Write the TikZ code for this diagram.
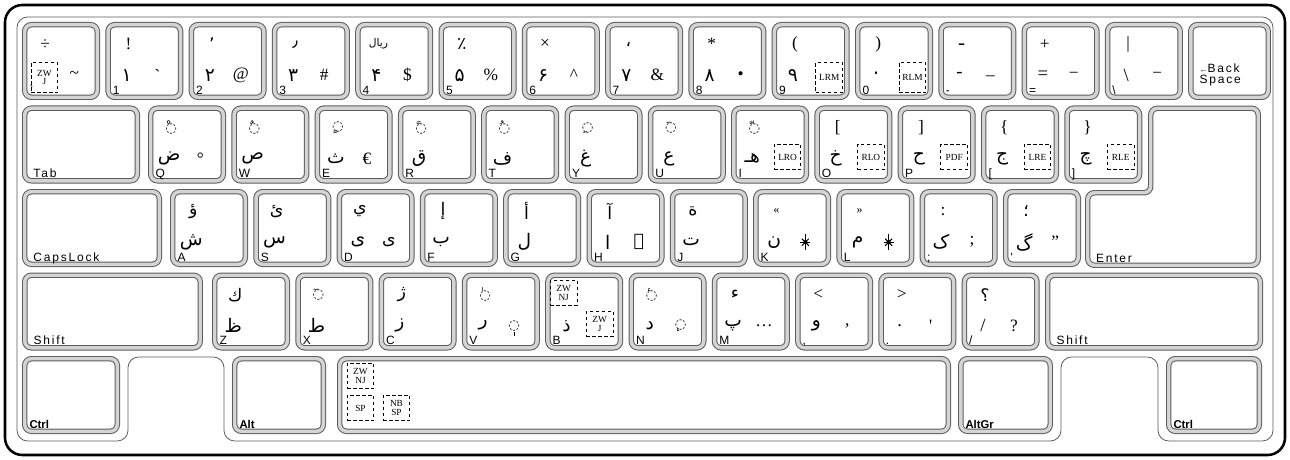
\documentclass[tikz,border=0pt]{standalone}
\usepackage{fontspec}
\setmainfont{Liberation Serif}
\newfontfamily\keyfont[LetterSpace=15]{Liberation Sans}
\newfontfamily\modfont{Liberation Sans}
\newfontfamily\ar[Script=Arabic]{DejaVu Sans}
\TeXXeTstate=1
\usetikzlibrary{positioning}
\definecolor{keyedge}{HTML}{5C5C5C}
\definecolor{keyband}{HTML}{D4D4D4}
% Arabic mark on a dotted circle
\newcommand{\dotmark}[1]{{\ar\fontsize{10}{10}\selectfont ◌#1}}

\begin{document}
\begin{tikzpicture}[x=0.75pt, y=-0.75pt,
  keycap/.style={draw=keyedge, line width=0.75pt, double=keyband, double distance=2.6pt, rounded corners=5pt, inner sep=0pt},
  unitkey/.style={keycap, minimum width=54.4pt, minimum height=54.4pt},
  topch/.style={font=\fontsize{13}{13}\selectfont, inner sep=0pt},
  basech/.style={font=\ar\fontsize{14}{14}\selectfont, inner sep=0pt},
  altch/.style={font=\fontsize{13}{13}\selectfont, inner sep=0pt},
  keylbl/.style={font=\keyfont\fontsize{9}{9}\selectfont, anchor=base west, inner sep=0pt},
  modlbl/.style={keylbl, font=\modfont\bfseries\fontsize{8.5}{8.5}\selectfont},
  ctrlbox/.style={draw, dash pattern=on 2.6pt off 1.9pt, line width=0.7pt, font=\fontsize{7}{6.5}\selectfont, align=center, inner sep=0pt, minimum width=20pt, minimum height=19pt},
  ornament/.style={line width=0.7pt},
  caseline/.style={draw=keyedge, line width=0.6pt, rounded corners=8pt},
  frame/.style={draw=black, line width=1.9pt, rounded corners=13pt}
]
\fill[white] (0,0) rectangle (1290,460);
\useasboundingbox (0,0) rectangle (1290,460);

% Case outline
\draw[frame] (5,5) rectangle (1285,455);
\draw[caseline] (17,17) -- (1273,17) -- (1273,441) -- (1158,441) -- (1158,357) -- (1061,357)
  -- (1061,441) -- (224,441) -- (224,357) -- (128,357) -- (128,441) -- (17,441) -- cycle;

% Number row
\foreach \i/\kn/\sh/\bs/\ag/\lb in {0/grave/÷/{}/\textasciitilde/\textasciigrave,
    1/one/!/۱/\textasciigrave/1, 2/two/{\ar ٬}/۲/@/2, 3/three/{\ar ٫}/۳/\#/3,
    4/four/{\ar\fontsize{8}{8}\selectfont\beginR ریال\endR}/۴/\$/4,
    5/five/{\ar ٪}/۵/\%/5, 6/six/×/۶/\textasciicircum/6, 7/seven/{\ar ،}/۷/\&/7,
    8/eight/*/۸/•/8, 9/nine/{(}/۹/{}/9, 10/zero/{)}/۰/{}/0,
    11/minus/{\ar ـ}/{\rmfamily -}/\_/-, 12/equal/+/{\rmfamily =}/−/=,
    13/bslash/|/{\rmfamily\textbackslash}/−/\textbackslash}{
  \node[unitkey] (k\kn) at ({61+83.3*\i},61) {};
  \node[topch]  (k\kn-s) at ([shift={(21,20)}]k\kn.north west) {\sh};
  \node[basech] (k\kn-b) at ([shift={(19,51)}]k\kn.north west) {\bs};
  \node[altch]  (k\kn-a) at ([shift={(50,51)}]k\kn.north west) {\ag};
  \node[keylbl] (k\kn-l) at ([shift={(5,70)}]k\kn.north west) {\lb};
}
\node[keycap, minimum width=58.1pt, minimum height=54.4pt] (kback) at (1229.5,61) {};
\node[keylbl, align=left, font=\keyfont\fontsize{9}{8.2}\selectfont] (kback-l)
  at ([shift={(9,59)}]kback.north west) {{\fontsize{6}{6}\selectfont ←}Back\\Space};
\node[ctrlbox, minimum height=22.5pt] (zwj1) at ([shift={(20.25,53.25)}]kgrave.north west) {ZW\\J};
\node[ctrlbox, minimum height=22.5pt] (lrm) at ([shift={(55.25,53.25)}]knine.north west) {LRM};
\node[ctrlbox, minimum height=22.5pt] (rlm) at ([shift={(55.25,53.25)}]kzero.north west) {RLM};

% Top letter row
\node[keycap, minimum width=84.4pt, minimum height=54.4pt] (ktab) at (81,144.5) {};
\node[keylbl] (ktab-l) at ([shift={(9,70)}]ktab.north west) {Tab};
\foreach \i/\kn/\sh/\bs/\ag/\lb in {0/Q/{\dotmark{ْ}}/ض/°/Q, 1/W/{\dotmark{ٌ}}/ص/{}/W,
    2/E/{\dotmark{ٍ}}/ث/€/E, 3/R/{\dotmark{ً}}/ق/{}/R, 4/T/{\dotmark{ُ}}/ف/{}/T,
    5/Y/{\dotmark{ِ}}/غ/{}/Y, 6/U/{\dotmark{َ}}/ع/{}/U, 7/I/{\dotmark{ّ}}/هـ/{}/I,
    8/O/[/خ/{}/O, 9/P/]/ح/{}/P, 10/lbrack/\{/ج/{}/[, 11/rbrack/\}/چ/{}/]}{
  \node[unitkey] (k\kn) at ({187+83.3*\i},144.5) {};
  \node[topch]  (k\kn-s) at ([shift={(21,20)}]k\kn.north west) {\sh};
  \node[basech] (k\kn-b) at ([shift={(19,51)}]k\kn.north west) {\bs};
  \node[altch]  (k\kn-a) at ([shift={(50,51)}]k\kn.north west) {\ag};
  \node[keylbl] (k\kn-l) at ([shift={(5,70)}]k\kn.north west) {\lb};
}
\node[ctrlbox] (lro) at ([shift={(54.25,49.25)}]kI.north west) {LRO};
\node[ctrlbox] (rlo) at ([shift={(54.25,49.25)}]kO.north west) {RLO};
\node[ctrlbox] (pdf) at ([shift={(54.25,49.25)}]kP.north west) {PDF};
\node[ctrlbox] (lre) at ([shift={(54.25,49.25)}]klbrack.north west) {LRE};
\node[ctrlbox] (rle) at ([shift={(54.25,49.25)}]krbrack.north west) {RLE};

% Enter
\draw[keycap] (1150.75,108.25) -- (1258.25,108.25) -- (1258.25,265.25) -- (1087.75,265.25)
  -- (1087.75,192.75) -- (1150.75,192.75) -- cycle;
\coordinate (kenter) at (1087.75,192.75);
\node[keylbl] (kenter-l) at ([shift={(8,70)}]kenter) {Enter};

% Home row
\node[keycap, minimum width=100.9pt, minimum height=54.4pt] (kcaps) at (92,228) {};
\node[keylbl] (kcaps-l) at ([shift={(9,70)}]kcaps.north west) {CapsLock};
\foreach \i/\kn/\sh/\bs/\ag/\lb in {0/A/{\ar ؤ}/ش/{}/A, 1/S/{\ar ئ}/س/{}/S,
    2/D/{\ar ي}/ی/{\ar ى}/D, 3/F/{\ar إ}/ب/{}/F, 4/G/{\ar أ}/ل/{}/G,
    5/H/{\ar آ}/ا/{\ar ٱ}/H, 6/J/{\ar ة}/ت/{}/J,
    7/K/{\fontsize{9}{9}\selectfont «}/ن/{}/K, 8/L/{\fontsize{9}{9}\selectfont »}/م/{}/L,
    9/semi/:/ک/;/;, 10/quote/{\ar ؛}/گ/"/\textquotesingle}{
  \node[unitkey] (k\kn) at ({209+83.3*\i},228) {};
  \node[topch]  (k\kn-s) at ([shift={(21,20)}]k\kn.north west) {\sh};
  \node[basech] (k\kn-b) at ([shift={(19,51)}]k\kn.north west) {\bs};
  \node[altch]  (k\kn-a) at ([shift={(50,51)}]k\kn.north west) {\ag};
  \node[keylbl] (k\kn-l) at ([shift={(5,70)}]k\kn.north west) {\lb};
}
% ornate brackets drawn as small flowers
\foreach \kn in {K,L}{
  \draw[ornament] ([shift={(0,-8)}]k\kn-a.center) -- ([shift={(0,8)}]k\kn-a.center);
  \foreach \a in {0,45,135}
    \draw[ornament] ([shift={(\a:5)}]k\kn-a.center) -- ([shift={(\a+180:5)}]k\kn-a.center);
  \fill ([shift={(0,0)}]k\kn-a.center) circle (1.6pt);
}

% Bottom letter row
\node[keycap, minimum width=131.6pt, minimum height=54.4pt] (klshift) at (112.5,311.5) {};
\node[keylbl] (klshift-l) at ([shift={(9,70)}]klshift.north west) {Shift};
\foreach \i/\kn/\sh/\bs/\ag/\lb in {0/Z/{\ar ك}/ظ/{}/Z, 1/X/{\dotmark{ٓ}}/ط/{}/X,
    2/C/{\ar ژ}/ز/{}/C, 3/V/{\dotmark{ٰ}}/ر/{\dotmark{}}/V, 4/B/{}/ذ/{}/B,
    5/N/{\dotmark{ٔ}}/د/{\dotmark{ٕ}}/N, 6/M/{\ar ء}/پ/…/M, 7/comma/</و/{,}/{,},
    8/period/>/{\rmfamily .}/\textquotesingle/., 9/slash/{\ar ؟}/{\rmfamily /}/?/{/}}{
  \node[unitkey] (k\kn) at ({251+83.3*\i},311.5) {};
  \node[topch]  (k\kn-s) at ([shift={(21,20)}]k\kn.north west) {\sh};
  \node[basech] (k\kn-b) at ([shift={(19,51)}]k\kn.north west) {\bs};
  \node[altch]  (k\kn-a) at ([shift={(50,51)}]k\kn.north west) {\ag};
  \node[keylbl] (k\kn-l) at ([shift={(5,70)}]k\kn.north west) {\lb};
}
% subscript alef under the dotted circle
\draw[line width=0.8pt] ([shift={(0,6)}]kV-a.center) -- ([shift={(0,10)}]kV-a.center);
\node[ctrlbox] (zwnj1) at ([shift={(16.25,18.25)}]kB.north west) {ZW\\NJ};
\node[ctrlbox] (zwj2) at ([shift={(52.25,49.25)}]kB.north west) {ZW\\J};
\node[keycap, minimum width=159.4pt, minimum height=54.4pt] (krshift) at (1154,311.5) {};
\node[keylbl] (krshift-l) at ([shift={(9,70)}]krshift.north west) {Shift};

% Space row
\node[keycap, minimum width=69.4pt, minimum height=54.4pt] (klctrl) at (71,395) {};
\node[modlbl] (klctrl-l) at ([shift={(5,70)}]klctrl.north west) {Ctrl};
\node[keycap, minimum width=66.4pt, minimum height=54.4pt] (kalt) at (279,395) {};
\node[modlbl] (kalt-l) at ([shift={(5,70)}]kalt.north west) {Alt};
\node[keycap, minimum width=456.4pt, minimum height=54.4pt] (kspace) at (644,395) {};
\node[ctrlbox] (zwnj2) at ([shift={(21.25,17.75)}]kspace.north west) {ZW\\NJ};
\node[ctrlbox] (sp) at ([shift={(21.25,49.75)}]kspace.north west) {SP};
\node[ctrlbox] (nbsp) at ([shift={(57.25,49.75)}]kspace.north west) {NB\\SP};
\node[keycap, minimum width=67.1pt, minimum height=54.4pt] (kaltgr) at (1005.5,395) {};
\node[modlbl] (kaltgr-l) at ([shift={(5,70)}]kaltgr.north west) {AltGr};
\node[keycap, minimum width=67.9pt, minimum height=54.4pt] (krctrl) at (1214,395) {};
\node[modlbl] (krctrl-l) at ([shift={(5,70)}]krctrl.north west) {Ctrl};
\end{tikzpicture}
\end{document}
